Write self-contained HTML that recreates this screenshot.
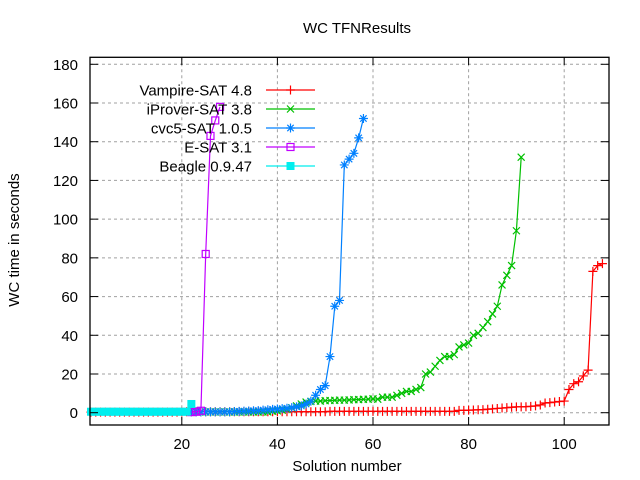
<!DOCTYPE html>
<html><head><meta charset="utf-8"><style>
body{margin:0;background:#fff}
svg{display:block;font-family:"Liberation Sans",sans-serif}
</style></head><body>
<svg id="chart" width="640" height="480" viewBox="0 0 640 480">
<rect width="640" height="480" fill="#fff"/>
<text x="357" y="33" font-size="15" text-anchor="middle">WC TFNResults</text>
<text x="0" y="0" font-size="15" text-anchor="middle" transform="translate(19,240) rotate(-90)">WC time in seconds</text>
<text x="347" y="471" font-size="15" text-anchor="middle">Solution number</text>
<g id="grid"></g>
<g id="series"></g>
<rect x="90" y="57.3" width="519" height="367.7" fill="none" stroke="#000" stroke-width="1.3"/>
<g id="ticks"></g>
<g id="legend"></g>
</svg>
<script>
const xTicks=[20,40,60,80,100];
const yTicks=[0,20,40,60,80,100,120,140,160,180];
const seriesNames=["Vampire-SAT 4.8","iProver-SAT 3.8","cvc5-SAT 1.0.5","E-SAT 3.1","Beagle 0.9.47"];
const vampireStart=1;
const vampireVals=[0.3,0.3,0.3,0.3,0.3,0.3,0.3,0.3,0.3,0.3,0.3,0.3,0.3,0.3,0.3,0.3,0.3,0.3,0.3,0.3,
0.5,0.5,0.5,0.5,0.5,0.5,0.5,0.5,0.5,0.5,0.5,0.5,0.5,0.5,0.5,0.5,0.5,0.5,0.5,0.5,0.5,0.5,0.5,0.5,0.5,0.5,0.5,0.5,0.5,0.5,
0.7,0.7,0.7,0.7,0.7,0.7,0.7,0.7,0.7,0.7,0.7,0.7,0.7,0.7,0.7,0.7,0.7,0.7,0.7,0.7,0.7,0.7,0.7,0.7,0.7,0.7,0.7,
1.2,1.2,1.3,1.4,1.5,1.6,1.8,2,2.2,2.4,2.6,2.8,3,3,3.1,3.3,3.5,4,5,5.2,5.5,5.8,6,12,15,16,19,22,73,76,77];
const iproverStart=23;
const iproverVals=[0.4,0.4,0.4,0.4,0.4,0.4,0.4,0.4,0.4,0.4,0.4,0.4,0.4,0.4,0.4,0.4,
0.8,1,1.3,1.8,2.5,3.5,4.5,
5.5,5.8,6,6,6.2,6.3,6.4,6.5,6.5,6.6,6.7,6.8,6.9,7,7.2,
7,8,8,8,9,10,11,11,12,13,20,21,24,27,29,29,30,34,35,36,40,41,44,47,51,55,66,71,76,94,132];
const cvc5Start=22;
const cvc5Vals=[0.4,0.4,0.4,0.4,0.4,0.4,0.4,0.4,0.4,0.6,0.7,0.8,0.9,1.0,1.1,1.3,1.5,1.7,1.9,2.1,2.3,2.6,3.0,3.5,4.5,6,9,12,14,29,55,58,128,131,134,142,152];
const esatStart=22;
const esatVals=[0.3,0.5,1,82,143,151,158];
const beagleStart=1;
const beagleVals=[0.5,0.5,0.5,0.5,0.5,0.5,0.5,0.5,0.5,0.5,0.5,0.5,0.5,0.5,0.5,0.5,0.5,0.5,0.5,0.5,0.5,4.5];

const X=v=>86.2+4.78*v;
const Y=v=>412.7-1.9356*v;
const NS="http://www.w3.org/2000/svg";
function mk(tag,attrs,parent){const e=document.createElementNS(NS,tag);for(const k in attrs)e.setAttribute(k,attrs[k]);parent.appendChild(e);return e;}
const grid=document.getElementById('grid'),ticks=document.getElementById('ticks'),ser=document.getElementById('series'),leg=document.getElementById('legend');
xTicks.forEach(t=>{
  const g=mk('line',{x1:X(t),x2:X(t),y1:57.3,y2:425,stroke:'#a0a0a0','stroke-dasharray':'3,3','stroke-width':1},grid);
  
  
  const l=mk('line',{x1:X(t),x2:X(t),y1:425,y2:417,stroke:'#000'},ticks);
  
  
  const l2=mk('line',{x1:X(t),x2:X(t),y1:57.3,y2:65,stroke:'#000'},ticks);
  
  
  const tx=mk('text',{x:X(t),y:449,'font-size':15,'text-anchor':'middle'},ticks);tx.textContent=t;
  
  
});
yTicks.forEach(t=>{
  const g=mk('line',{x1:90,x2:609,y1:Y(t),y2:Y(t),stroke:'#a0a0a0','stroke-dasharray':'3,3','stroke-width':1},grid);
  
  
  const l=mk('line',{x1:90,x2:98,y1:Y(t),y2:Y(t),stroke:'#000'},ticks);
  
  
  const l2=mk('line',{x1:601,x2:609,y1:Y(t),y2:Y(t),stroke:'#000'},ticks);
  
  
  const tx=mk('text',{x:78,y:Y(t)+5.5,'font-size':15,'text-anchor':'end'},ticks);tx.textContent=t;
  
  
});
function marker(type,x,y,c,p){
  let e;
  if(type==='plus'){e=mk('path',{d:`M${x-4.5} ${y}h9M${x} ${y-4.5}v9`,stroke:c,'stroke-width':1.2,fill:'none'},p);}
  else if(type==='cross'){e=mk('path',{d:`M${x-3.5} ${y-3.5}l7 7M${x-3.5} ${y+3.5}l7 -7`,stroke:c,'stroke-width':1.2,fill:'none'},p);}
  else if(type==='star'){e=mk('path',{d:`M${x-4.5} ${y}h9M${x} ${y-4.5}v9M${x-3.2} ${y-3.2}l6.4 6.4M${x-3.2} ${y+3.2}l6.4 -6.4`,stroke:c,'stroke-width':1.2,fill:'none'},p);}
  else if(type==='box'){e=mk('rect',{x:x-3.5,y:y-3.5,width:7,height:7,stroke:c,'stroke-width':1.2,fill:'none'},p);}
  else {e=mk('rect',{x:x-4,y:y-4,width:8,height:8,fill:c},p);}
  return e;
}
const defs=[
  {vals:vampireVals,start:vampireStart,c:'#ff0000',m:'plus',n:'vampire'},
  {vals:iproverVals,start:iproverStart,c:'#00c000',m:'cross',n:'iprover'},
  {vals:cvc5Vals,start:cvc5Start,c:'#0080ff',m:'star',n:'cvc5'},
  {vals:esatVals,start:esatStart,c:'#c000ff',m:'box',n:'esat'},
  {vals:beagleVals,start:beagleStart,c:'#00eeee',m:'fill',n:'beagle'}
];
defs.forEach((d,i)=>{
  const g=mk('g',{},ser);
  
  
  const pts=d.vals.map((v,k)=>X(d.start+k).toFixed(1)+','+Y(v).toFixed(1)).join(' ');
  const pl=mk('polyline',{points:pts,fill:'none',stroke:d.c,'stroke-width':1.2},g);
  
  
  d.vals.forEach((v,k)=>{
    const m=marker(d.m,X(d.start+k),Y(v),d.c,g);
    
    
  });
  const ly=90+19*i;
  const lg=mk('g',{},leg);
  
  
  const tx=mk('text',{x:252,y:ly+5.5,'font-size':15,'text-anchor':'end'},lg);tx.textContent=seriesNames[i];
  
  
  const ll=mk('line',{x1:266,x2:315,y1:ly,y2:ly,stroke:d.c,'stroke-width':1.2},lg);
  
  
  const lm=marker(d.m,290.5,ly,d.c,lg);
  
  
});
</script>
</body></html>
